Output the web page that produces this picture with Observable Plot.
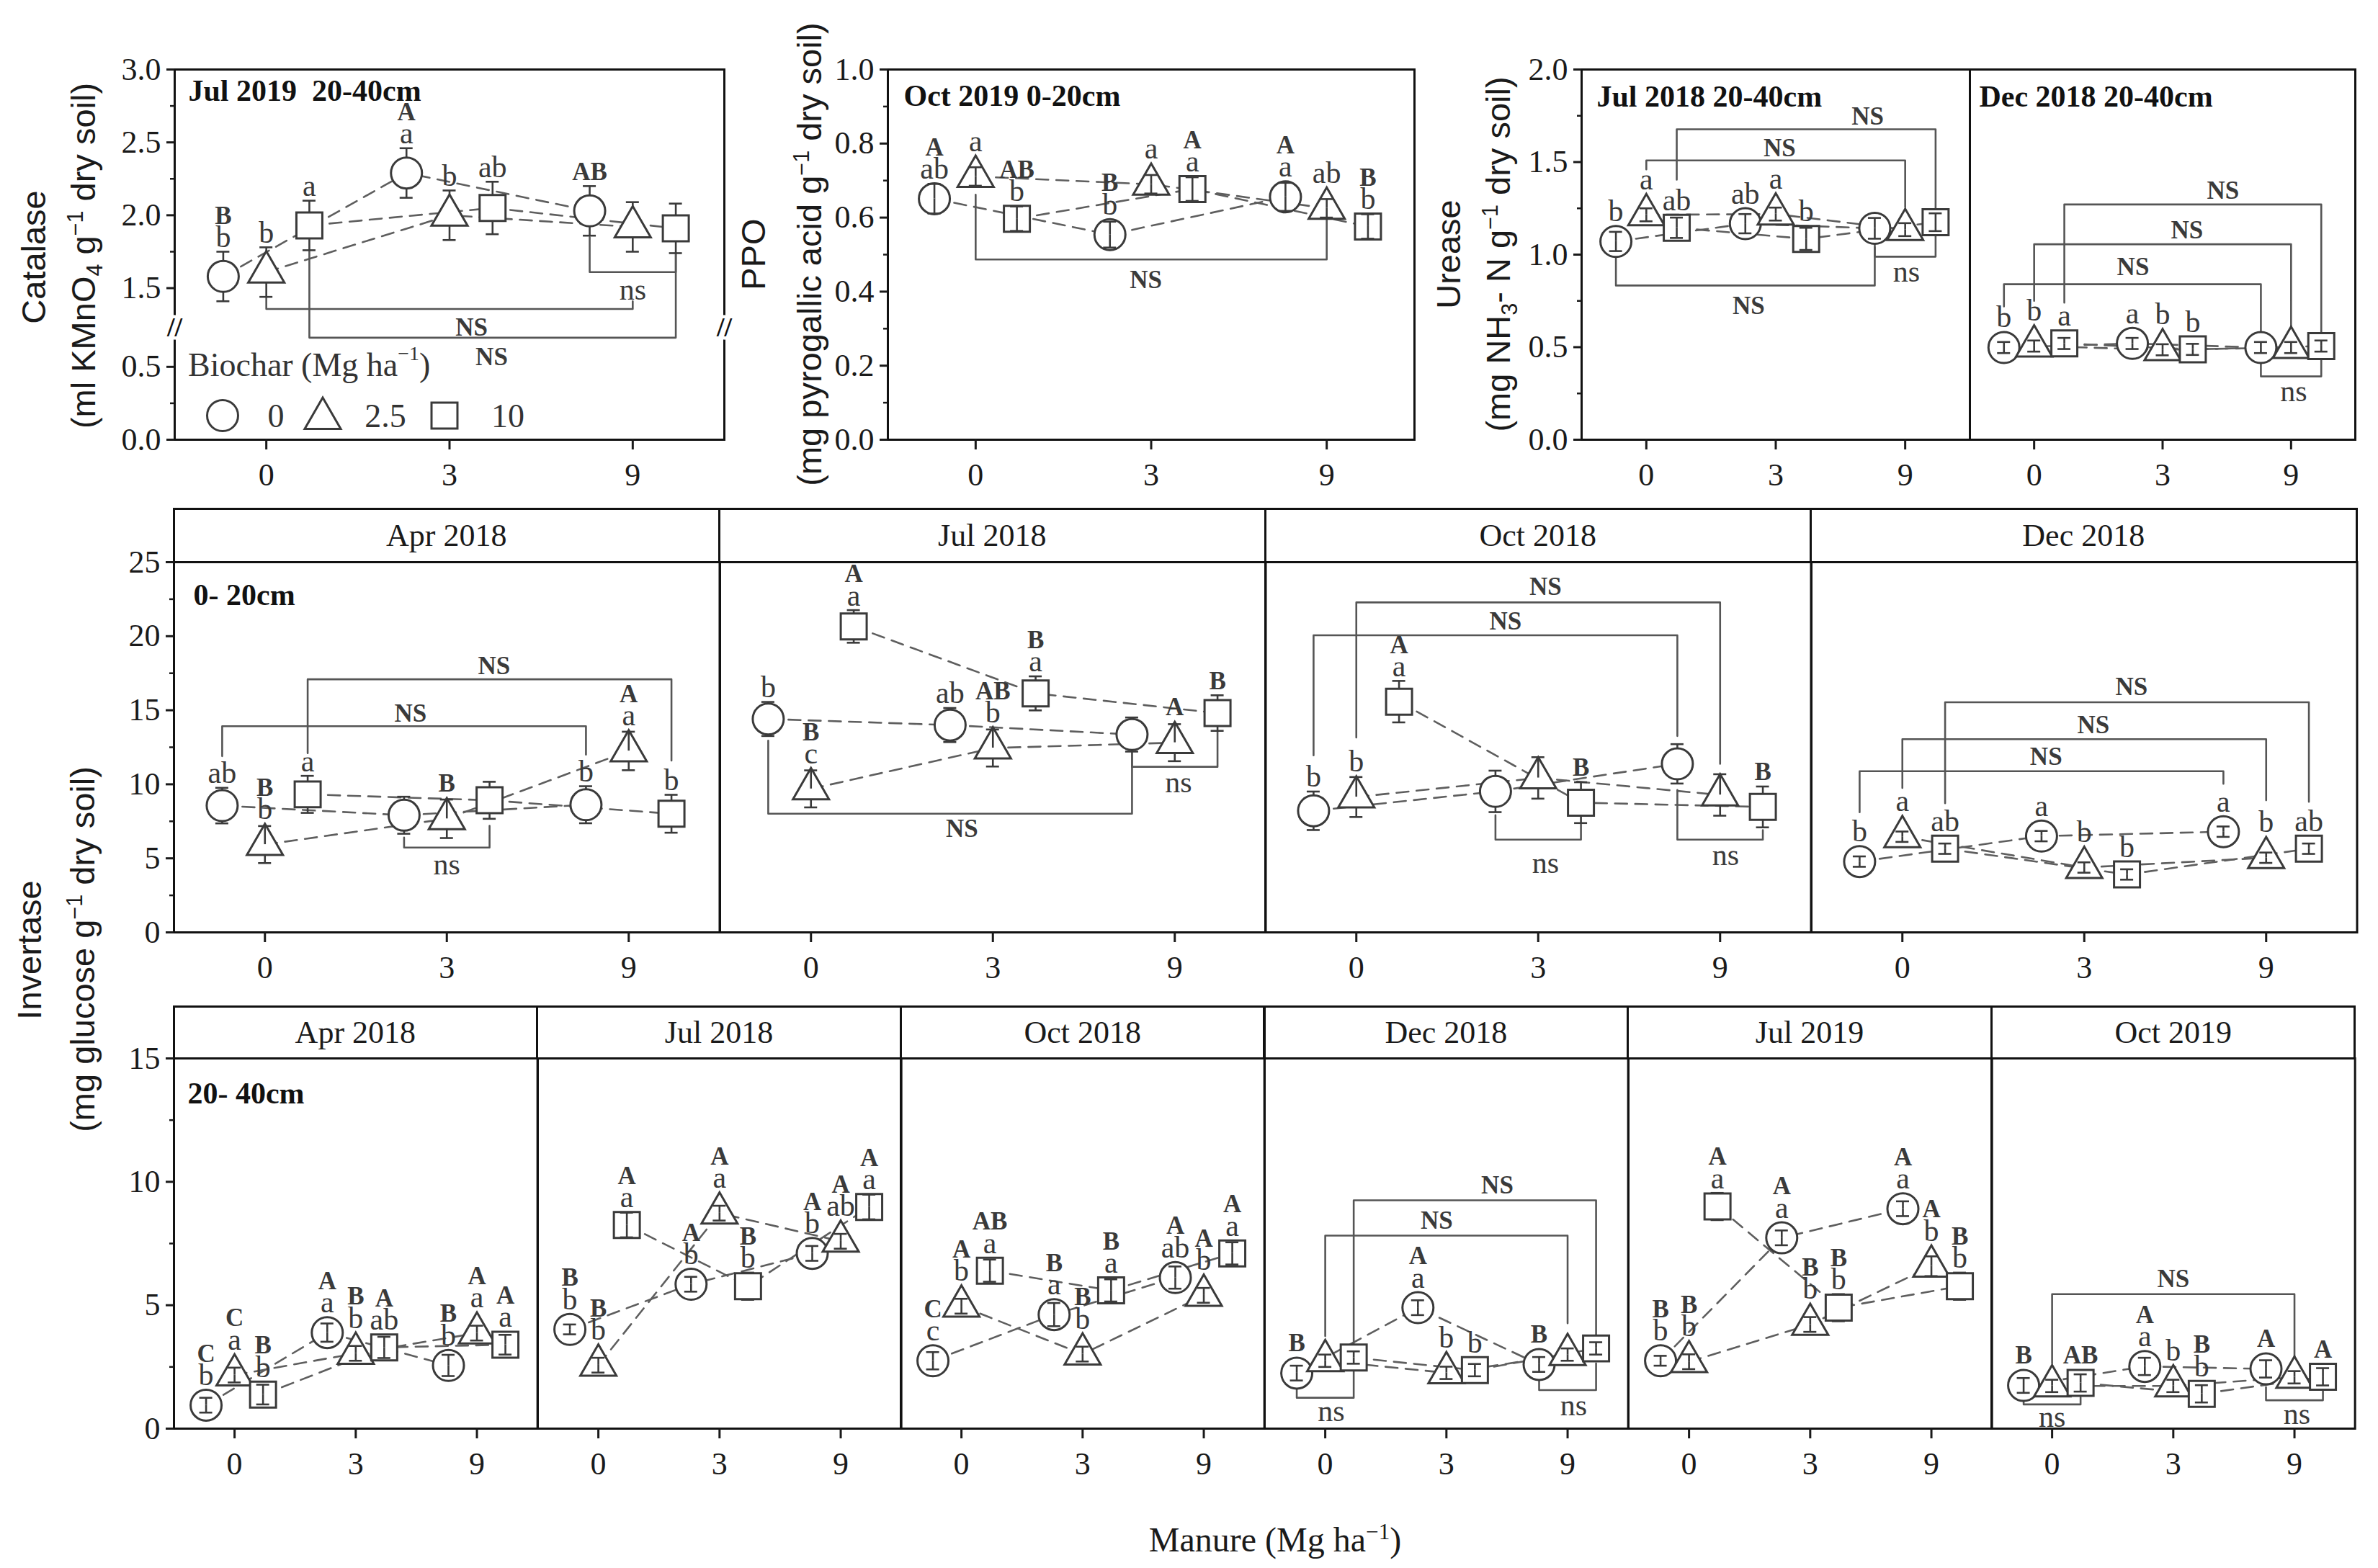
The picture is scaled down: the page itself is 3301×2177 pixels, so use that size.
<!DOCTYPE html>
<html><head><meta charset="utf-8">
<script src="https://cdn.jsdelivr.net/npm/d3@7"></script>
<script src="https://cdn.jsdelivr.net/npm/@observablehq/plot@0.6"></script>
<style>
body{margin:0;background:#fff;}
#fig{position:relative;width:3301px;height:2177px;background:#fff;overflow:hidden;font-family:"Liberation Serif","Times New Roman",serif;}
.ytitle{position:absolute;font-family:"Liberation Sans",Arial,sans-serif;font-size:47px;color:#1a1a1a;white-space:nowrap;transform:translate(-50%,-50%) rotate(-90deg);line-height:1;}
.hdr{position:absolute;box-sizing:border-box;border:3px solid #111;display:flex;align-items:center;justify-content:center;font-size:44px;color:#1a1a1a;}
.xtitle{position:absolute;font-size:48px;color:#1a1a1a;white-space:nowrap;transform:translate(-50%,-50%);}
sup,sub{font-size:65%;}
</style></head><body><div id="fig"></div><script>
// ---------------- DATA ----------------
// rows = biochar 0, 2.5, 10 Mg/ha ; columns = manure 0, 3, 9 Mg/ha
const manureTicks = ["0", "3", "9"];
const biocharLevels = ["0", "2.5", "10"];
const midHeaders = ["Apr 2018", "Jul 2018", "Oct 2018", "Dec 2018"];
const botHeaders = ["Apr 2018", "Jul 2018", "Oct 2018", "Dec 2018", "Jul 2019", "Oct 2019"];

// Catalase, Jul 2019, 20-40 cm
const catMean = [[1.58, 2.29, 2.03], [1.61, 2.00, 1.92], [1.93, 2.05, 1.91]];
const catSd = [[0.17, 0.17, 0.17], [0.17, 0.17, 0.17], [0.17, 0.18, 0.17]];
const catLow = [["b", "a", ""], ["b", "b", ""], ["a", "ab", ""]];
const catUp = [["B", "A", "AB"], ["", "", ""], ["", "", ""]];
const catBr = [
  {from: [0, 2, 1.85], to: [2, 2, 1.74], level: 1.61, text: "ns", at: [2.0, 1.49]},
  {from: [1, 0, 1.44], to: [1, 2, 1.41], level: 1.357, text: "NS", at: [1.12, 0.77]},
  {from: [2, 0, 1.76], to: [2, 2, 1.74], level: 0.70, text: "NS", at: [1.23, 0.566]}
];
const catTicks = [0, 0.5, 1.5, 2.0, 2.5, 3.0];
const catMinor = [0.25, 1.75, 2.25, 2.75];

// PPO, Oct 2019, 0-20 cm
const ppoMean = [[0.651, 0.554, 0.656], [0.711, 0.690, 0.625], [0.597, 0.677, 0.576]];
const ppoSd = [[0.040, 0.035, 0.038], [0.025, 0.025, 0.025], [0.033, 0.032, 0.033]];
const ppoLow = [["ab", "b", "a"], ["a", "a", "ab"], ["b", "a", "b"]];
const ppoUp = [["A", "B", "A"], ["", "", ""], ["AB", "A", "B"]];
const ppoBr = [{from: [1, 0, 0.662], to: [1, 2, 0.595], level: 0.487, text: "NS", at: [0.97, 0.431]}];
const ppoTicks = [0, 0.2, 0.4, 0.6, 0.8, 1.0];
const ppoMinor = [0.1, 0.3, 0.5, 0.7, 0.9];

// Urease, Jul 2018 & Dec 2018, 20-40 cm
const urJulMean = [[1.071, 1.167, 1.142], [1.215, 1.219, 1.135], [1.145, 1.085, 1.175]];
const urJulSd = [[0.052, 0.052, 0.056], [0.035, 0.035, 0.035], [0.055, 0.060, 0.048]];
const urJulLow = [["b", "ab", ""], ["a", "a", ""], ["ab", "b", ""]];
const urJulUp = [["", "", ""], ["", "", ""], ["", "", ""]];
const urJulBr = [
  {from: [2, 0, 1.405], to: [2, 2, 1.249], level: 1.677, text: "NS", at: [1.71, 1.747]},
  {from: [1, 0, 1.46], to: [1, 2, 1.257], level: 1.509, text: "NS", at: [1.03, 1.576]},
  {from: [0, 0, 0.996], to: [0, 2, 1.07], level: 0.833, text: "NS", at: [0.79, 0.721]},
  {from: [0, 2, 1.04], to: [2, 2, 1.10], level: 0.989, text: "ns", at: [2.01, 0.907]}
];
const urDecMean = [[0.498, 0.520, 0.498], [0.506, 0.486, 0.498], [0.520, 0.488, 0.506]];
const urDecSd = [[0.03, 0.03, 0.03], [0.03, 0.03, 0.03], [0.03, 0.03, 0.03]];
const urDecLow = [["b", "a", ""], ["b", "b", ""], ["a", "b", ""]];
const urDecUp = [["", "", ""], ["", "", ""], ["", "", ""]];
const urDecBr = [
  {from: [2, 0, 0.74], to: [2, 2, 0.58], level: 1.271, text: "NS", at: [1.47, 1.346]},
  {from: [1, 0, 0.75], to: [1, 2, 0.61], level: 1.056, text: "NS", at: [1.19, 1.13]},
  {from: [0, 0, 0.72], to: [0, 2, 0.587], level: 0.840, text: "NS", at: [0.77, 0.934]},
  {from: [0, 2, 0.424], to: [2, 2, 0.439], level: 0.342, text: "ns", at: [2.02, 0.26]}
];
const urTicks = [0, 0.5, 1.0, 1.5, 2.0];
const urMinor = [0.25, 0.75, 1.25, 1.75];

// Invertase, 0-20 cm
const inv0Apr18Mean = [[8.56, 7.91, 8.62], [5.93, 7.67, 12.25], [9.32, 8.92, 8.01]];
const inv0Apr18Sd = [[1.2, 1.25, 1.25], [1.25, 1.3, 1.3], [1.25, 1.25, 1.28]];
const inv0Apr18Low = [["ab", "", "b"], ["b", "", "a"], ["a", "", "b"]];
const inv0Apr18Up = [["", "", ""], ["B", "B", "A"], ["", "", ""]];
const inv0Apr18Br = [
  {from: [2, 0, 12.1], to: [2, 2, 11.6], level: 17.09, text: "NS", at: [1.26, 18.0]},
  {from: [0, 0, 11.9], to: [0, 2, 12.0], level: 13.92, text: "NS", at: [0.80, 14.77]},
  {from: [0, 1, 6.4], to: [2, 1, 7.2], level: 5.73, text: "ns", at: [1.0, 4.58]}
];
const inv0Jul18Mean = [[14.41, 14.0, 13.36], [9.69, 12.45, 12.81], [20.66, 16.14, 14.81]];
const inv0Jul18Sd = [[1.15, 1.15, 1.15], [1.25, 1.25, 1.25], [1.1, 1.15, 1.2]];
const inv0Jul18Low = [["b", "ab", ""], ["c", "b", ""], ["a", "a", ""]];
const inv0Jul18Up = [["", "", ""], ["B", "AB", "A"], ["A", "B", "B"]];
const inv0Jul18Br = [
  {from: [0, 0, 12.95], to: [0, 2, 12.15], level: 8.01, text: "NS", at: [0.83, 7.0]},
  {from: [0, 2, 12.15], to: [2, 2, 13.56], level: 11.18, text: "ns", at: [2.02, 10.13]}
];
const inv0Oct18Mean = [[8.21, 9.52, 11.38], [9.14, 10.43, 9.28], [15.58, 8.76, 8.47]];
const inv0Oct18Sd = [[1.3, 1.4, 1.33], [1.35, 1.4, 1.4], [1.4, 1.38, 1.38]];
const inv0Oct18Low = [["b", "", ""], ["b", "", ""], ["a", "", ""]];
const inv0Oct18Up = [["", "", ""], ["", "", ""], ["A", "B", "B"]];
const inv0Oct18Br = [
  {from: [1, 0, 13.16], to: [1, 2, 11.38], level: 22.28, text: "NS", at: [1.04, 23.35]},
  {from: [0, 0, 11.95], to: [0, 2, 13.26], level: 20.06, text: "NS", at: [0.82, 21.02]},
  {from: [0, 1, 7.91], to: [2, 1, 7.30], level: 6.26, text: "ns", at: [1.04, 4.68]},
  {from: [0, 2, 9.62], to: [2, 2, 6.9], level: 6.26, text: "ns", at: [2.03, 5.19]}
];
const inv0Dec18Mean = [[4.78, 6.50, 6.80], [6.46, 4.38, 5.04], [5.65, 3.91, 5.65]];
const inv0Dec18Sd = [[0.35, 0.35, 0.35], [0.35, 0.35, 0.35], [0.35, 0.35, 0.35]];
const inv0Dec18Low = [["b", "a", "a"], ["a", "b", "b"], ["ab", "b", "ab"]];
const inv0Dec18Up = [["", "", ""], ["", "", ""], ["", "", ""]];
const inv0Dec18Br = [
  {from: [2, 0, 8.72], to: [2, 2, 8.82], level: 15.54, text: "NS", at: [1.26, 16.55]},
  {from: [1, 0, 9.75], to: [1, 2, 8.92], level: 13.05, text: "NS", at: [1.05, 14.0]},
  {from: [0, 0, 8.11], to: [0, 2, 10.03], level: 10.88, text: "NS", at: [0.79, 11.84]}
];

// Invertase, 20-40 cm
const inv2Apr18Mean = [[0.95, 3.89, 2.56], [2.17, 3.05, 3.87], [1.38, 3.29, 3.40]];
const inv2Apr18Sd = [[0.3, 0.37, 0.43], [0.3, 0.3, 0.3], [0.4, 0.43, 0.4]];
const inv2Apr18Low = [["b", "a", "b"], ["a", "b", "a"], ["b", "ab", "a"]];
const inv2Apr18Up = [["C", "A", "B"], ["C", "B", "A"], ["B", "A", "A"]];
const inv2Jul18Mean = [[4.02, 5.85, 7.10], [2.57, 8.73, 7.59], [8.25, 5.77, 8.98]];
const inv2Jul18Sd = [[0.2, 0.3, 0.3], [0.3, 0.3, 0.3], [0.5, 0.55, 0.5]];
const inv2Jul18Low = [["b", "b", "b"], ["b", "a", "ab"], ["a", "b", "a"]];
const inv2Jul18Up = [["B", "A", "A"], ["B", "A", "A"], ["A", "B", "A"]];
const inv2Oct18Mean = [[2.75, 4.62, 6.12], [4.96, 3.02, 5.40], [6.40, 5.60, 7.10]];
const inv2Oct18Sd = [[0.35, 0.47, 0.45], [0.3, 0.3, 0.3], [0.45, 0.45, 0.45]];
const inv2Oct18Low = [["c", "a", "ab"], ["b", "b", "b"], ["a", "a", "a"]];
const inv2Oct18Up = [["C", "B", "A"], ["A", "B", "A"], ["AB", "B", "A"]];
const inv2Dec18Mean = [[2.25, 4.90, 2.60], [2.75, 2.26, 3.00], [2.88, 2.37, 3.25]];
const inv2Dec18Sd = [[0.3, 0.3, 0.3], [0.25, 0.25, 0.25], [0.25, 0.25, 0.25]];
const inv2Dec18Low = [["", "a", ""], ["", "b", ""], ["", "b", ""]];
const inv2Dec18Up = [["B", "A", "B"], ["", "", ""], ["", "", ""]];
const inv2Dec18Br = [
  {from: [2, 0, 3.46], to: [2, 2, 3.81], level: 9.25, text: "NS", at: [1.42, 9.86]},
  {from: [1, 0, 3.75], to: [1, 2, 4.27], level: 7.82, text: "NS", at: [0.92, 8.42]},
  {from: [0, 0, 1.67], to: [2, 0, 2.31], level: 1.25, text: "ns", at: [0.05, 0.69]},
  {from: [0, 2, 1.96], to: [2, 2, 2.65], level: 1.56, text: "ns", at: [2.05, 0.92]}
];
const inv2Jul19Mean = [[2.75, 7.73, 8.91], [2.71, 4.22, 6.58], [9.00, 4.90, 5.77]];
const inv2Jul19Sd = [[0.2, 0.3, 0.3], [0.3, 0.3, 0.4], [0.55, 0.55, 0.55]];
const inv2Jul19Low = [["b", "a", "a"], ["b", "b", "b"], ["a", "b", "b"]];
const inv2Jul19Up = [["B", "A", "A"], ["B", "B", "A"], ["A", "B", "B"]];
const inv2Oct19Mean = [[1.75, 2.52, 2.42], [1.73, 1.73, 2.08], [1.85, 1.41, 2.10]];
const inv2Oct19Sd = [[0.3, 0.35, 0.35], [0.25, 0.25, 0.25], [0.35, 0.35, 0.35]];
const inv2Oct19Low = [["", "a", ""], ["", "b", ""], ["", "b", ""]];
const inv2Oct19Up = [["B", "A", "A"], ["", "", ""], ["AB", "B", "A"]];
const inv2Oct19Br = [
  {from: [1, 0, 2.65], to: [1, 2, 2.94], level: 5.45, text: "NS", at: [1.0, 6.06]},
  {from: [0, 0, 1.21], to: [2, 0, 1.27], level: 0.98, text: "ns", at: [0.0, 0.46]},
  {from: [0, 2, 1.68], to: [2, 2, 1.56], level: 1.15, text: "ns", at: [2.02, 0.58]}
];
const midTicks = [0, 5, 10, 15, 20, 25];
const midMinor = [2.5, 7.5, 12.5, 17.5, 22.5];
const botTicks = [0, 5, 10, 15];
const botMinor = [2.5, 7.5, 12.5];

// ---------------- DRAWING ----------------
const fig = document.getElementById("fig");
const OFF = 0.235;
const SYM = ["circle", "triangle", "square"];
const RAD = [21.5, 18.6, 20.3];
const EXT = [{up: 21.5, dn: 21.5}, {up: 28.9, dn: 14.5}, {up: 18, dn: 18}];
const INK = "#3a3a3a";
const f1 = d3.format(".1f");

function place(el, left, top) {
  el.style.position = "absolute";
  el.style.left = left + "px";
  el.style.top = top + "px";
  fig.appendChild(el);
}

function drawPanel(c) {
  const W = c.R - c.L, H = c.B - c.T;
  const tf = c.tf || (v => v);
  const ppu = H / (c.ydom[1] - c.ydom[0]);
  const ppx = W / 3;
  const rows = [];
  for (let b = 0; b < 3; b++) for (let m = 0; m < 3; m++) {
    const v = c.mean[b][m], s = c.sd[b][m], e = EXT[b];
    const y = tf(v), yt = tf(v + s), yb = tf(v - s);
    rows.push({
      b, m, pos: m + (b - 1) * OFF, y, yt, yb,
      a1: (yt - y) * ppu > e.up ? y + e.up / ppu : y,
      a2: (y - yb) * ppu > e.dn ? y - e.dn / ppu : y,
      top: Math.max(yt, y + e.up / ppu),
      lo: c.low[b][m], up: c.up[b][m]
    });
  }
  const br = c.br || [];
  const bpts = [];
  br.forEach((k, i) => {
    const x1 = k.from[1] + (k.from[0] - 1) * OFF, x2 = k.to[1] + (k.to[0] - 1) * OFF;
    bpts.push({id: i, x: x1, y: tf(k.from[2])}, {id: i, x: x1, y: tf(k.level)},
              {id: i, x: x2, y: tf(k.level)}, {id: i, x: x2, y: tf(k.to[2])});
  });
  const capW = 9 / ppx;
  const marks = [
    Plot.line(rows, {x: "pos", y: "y", z: "b", stroke: "#5e5e5e", strokeWidth: 2.6, strokeDasharray: "17,11"}),
    Plot.line(bpts, {x: "x", y: "y", z: "id", stroke: "#555", strokeWidth: 2.6}),
    ...[0, 1, 2].map(b => Plot.dot(rows.filter(d => d.b === b), {x: "pos", y: "y", symbol: SYM[b], r: RAD[b], fill: "white", stroke: INK, strokeWidth: 3})),
    Plot.ruleX(rows, {x: "pos", y1: "a1", y2: "yt", stroke: INK, strokeWidth: 2.6}),
    Plot.ruleX(rows, {x: "pos", y1: "yb", y2: "a2", stroke: INK, strokeWidth: 2.6}),
    Plot.ruleY(rows, {y: "yt", x1: d => d.pos - capW, x2: d => d.pos + capW, stroke: INK, strokeWidth: 2.6}),
    Plot.ruleY(rows, {y: "yb", x1: d => d.pos - capW, x2: d => d.pos + capW, stroke: INK, strokeWidth: 2.6}),
    Plot.text(rows.filter(d => d.lo), {x: "pos", y: "top", text: "lo", dy: -20, fontSize: 42, fill: INK, lineAnchor: "middle"}),
    Plot.text(rows.filter(d => d.up && d.lo), {x: "pos", y: "top", text: "up", dy: -50, fontSize: 35, fontWeight: "bold", fill: INK, lineAnchor: "middle"}),
    Plot.text(rows.filter(d => d.up && !d.lo), {x: "pos", y: "top", text: "up", dy: -20, fontSize: 35, fontWeight: "bold", fill: INK, lineAnchor: "middle"}),
    Plot.text(br.filter(d => d.text === "NS"), {x: d => d.at[0], y: d => tf(d.at[1]), text: "text", fontSize: 35, fontWeight: "bold", fill: INK, lineAnchor: "middle"}),
    Plot.text(br.filter(d => d.text === "ns"), {x: d => d.at[0], y: d => tf(d.at[1]), text: "text", fontSize: 42, fill: INK, lineAnchor: "middle"}),
    Plot.frame({stroke: "#111", strokeWidth: 3}),
    Plot.axisX({ticks: [0, 1, 2], tickFormat: i => manureTicks[i], tickSize: 14, tickPadding: 18, strokeWidth: 3, label: null})
  ];
  if (c.title) marks.push(Plot.text([c.title], {frameAnchor: "top-left", dx: c.tdx, dy: c.tdy, text: d => d, fontSize: 42, fontWeight: "bold", fill: "#111", lineAnchor: "middle"}));
  if (c.yticks) {
    marks.push(Plot.axisY({ticks: c.yticks.map(tf), tickFormat: c.yfmt, tickSize: 11, tickPadding: 8, strokeWidth: 3, label: null}));
    marks.push(Plot.axisY({ticks: c.yminor.map(tf), tickFormat: () => "", tickSize: 6, strokeWidth: 2.5, label: null}));
  }
  if (c.extra) marks.push(...c.extra);
  const ml = c.yticks ? 130 : 3, mr = 3, mt = 3, mb = 100;
  const svg = Plot.plot({
    width: W + ml + mr, height: H + mt + mb,
    marginLeft: ml, marginRight: mr, marginTop: mt, marginBottom: mb,
    x: {domain: [-0.5, 2.5]},
    y: c.yticks ? {domain: c.ydom} : {domain: c.ydom, axis: null},
    style: {fontFamily: '"Liberation Serif","Times New Roman",serif', fontSize: "44px", color: "#1a1a1a", background: "transparent", overflow: "visible", maxWidth: "none"},
    marks
  });
  place(svg, c.L - ml, c.T - mt);
}

function header(text, L, R, top, bottom) {
  const d = document.createElement("div");
  d.className = "hdr";
  d.textContent = text;
  d.style.left = (L - 1.5) + "px";
  d.style.top = (top - 1.5) + "px";
  d.style.width = (R - L + 3) + "px";
  d.style.height = (bottom - top + 3) + "px";
  fig.appendChild(d);
}
function ytitle(html, cx, cy) {
  const d = document.createElement("div");
  d.className = "ytitle";
  d.innerHTML = html;
  d.style.left = cx + "px";
  d.style.top = cy + "px";
  fig.appendChild(d);
}

// --- top row ---
const catTf = v => v >= 1.0 ? v - 0.46 : v;
const catUn = t => t > 0.77 ? t + 0.46 : t;
drawPanel({L: 242, R: 1005, T: 96, B: 610, ydom: [0, 2.54], tf: catTf,
  mean: catMean, sd: catSd, low: catLow, up: catUp, br: catBr,
  yticks: catTicks, yminor: catMinor, yfmt: t => f1(catUn(t)),
  title: "Jul 2019  20-40cm", tdx: 19, tdy: 30,
  extra: ["left", "right"].map(a => Plot.text([0.77], {y: d => d, frameAnchor: a, text: () => "//", textAnchor: "middle", lineAnchor: "middle", fontSize: 38, fontWeight: "bold", fill: "#111", stroke: "white", strokeWidth: 9, paintOrder: "stroke"}))
});
drawPanel({L: 1232, R: 1963, T: 96, B: 610, ydom: [0, 1],
  mean: ppoMean, sd: ppoSd, low: ppoLow, up: ppoUp, br: ppoBr,
  yticks: ppoTicks, yminor: ppoMinor, yfmt: f1,
  title: "Oct 2019 0-20cm", tdx: 22, tdy: 37});
drawPanel({L: 2195, R: 2734, T: 96, B: 610, ydom: [0, 2],
  mean: urJulMean, sd: urJulSd, low: urJulLow, up: urJulUp, br: urJulBr,
  yticks: urTicks, yminor: urMinor, yfmt: f1,
  title: "Jul 2018 20-40cm", tdx: 21, tdy: 38});
drawPanel({L: 2734, R: 3269, T: 96, B: 610, ydom: [0, 2],
  mean: urDecMean, sd: urDecSd, low: urDecLow, up: urDecUp, br: urDecBr,
  title: "Dec 2018 20-40cm", tdx: 13, tdy: 38});

// --- middle row (0-20 cm) ---
const midData = [
  [inv0Apr18Mean, inv0Apr18Sd, inv0Apr18Low, inv0Apr18Up, inv0Apr18Br],
  [inv0Jul18Mean, inv0Jul18Sd, inv0Jul18Low, inv0Jul18Up, inv0Jul18Br],
  [inv0Oct18Mean, inv0Oct18Sd, inv0Oct18Low, inv0Oct18Up, inv0Oct18Br],
  [inv0Dec18Mean, inv0Dec18Sd, inv0Dec18Low, inv0Dec18Up, inv0Dec18Br]
];
const midL = 241, midR = 3271, midW = (midR - midL) / 4;
midData.forEach((p, i) => {
  const L = midL + i * midW, R = L + midW;
  header(midHeaders[i], L, R, 706, 780);
  drawPanel({L, R, T: 780, B: 1294, ydom: [0, 25],
    mean: p[0], sd: p[1], low: p[2], up: p[3], br: p[4],
    yticks: i === 0 ? midTicks : null, yminor: midMinor, yfmt: d => String(d),
    title: i === 0 ? "0- 20cm" : null, tdx: 27, tdy: 46});
});

// --- bottom row (20-40 cm) ---
const botData = [
  [inv2Apr18Mean, inv2Apr18Sd, inv2Apr18Low, inv2Apr18Up, []],
  [inv2Jul18Mean, inv2Jul18Sd, inv2Jul18Low, inv2Jul18Up, []],
  [inv2Oct18Mean, inv2Oct18Sd, inv2Oct18Low, inv2Oct18Up, []],
  [inv2Dec18Mean, inv2Dec18Sd, inv2Dec18Low, inv2Dec18Up, inv2Dec18Br],
  [inv2Jul19Mean, inv2Jul19Sd, inv2Jul19Low, inv2Jul19Up, []],
  [inv2Oct19Mean, inv2Oct19Sd, inv2Oct19Low, inv2Oct19Up, inv2Oct19Br]
];
const botL = 241, botR = 3269, botW = (botR - botL) / 6;
botData.forEach((p, i) => {
  const L = botL + i * botW, R = L + botW;
  header(botHeaders[i], L, R, 1397, 1469);
  drawPanel({L, R, T: 1469, B: 1983, ydom: [0, 15],
    mean: p[0], sd: p[1], low: p[2], up: p[3], br: p[4],
    yticks: i === 0 ? botTicks : null, yminor: botMinor, yfmt: d => String(d),
    title: i === 0 ? "20- 40cm" : null, tdx: 19, tdy: 49});
});

// --- axis titles ---
ytitle("Catalase", 46, 357);
ytitle("(ml KMnO<sub>4</sub> g<sup>−1</sup> dry soil)", 118, 355);
ytitle("PPO", 1045, 353);
ytitle("(mg pyrogallic acid g<sup>−1</sup> dry soil)", 1122, 353);
ytitle("Urease", 2010, 353);
ytitle("(mg NH<sub>3</sub>- N g<sup>−1</sup> dry soil)", 2082, 353);
ytitle("Invertase", 40, 1319);
ytitle("(mg glucose g<sup>−1</sup> dry soil)", 113, 1318);
const xt = document.createElement("div");
xt.className = "xtitle";
xt.innerHTML = "Manure (Mg ha<sup>−1</sup>)";
xt.style.left = "1770px"; xt.style.top = "2137px";
fig.appendChild(xt);

// --- biochar legend (inside catalase panel) ---
const lg = d3.create("svg").attr("width", 560).attr("height", 150).style("overflow", "visible");
const lt = lg.append("text").attr("x", 11).attr("y", 41).attr("dominant-baseline", "central")
  .attr("font-family", '"Liberation Serif",serif').attr("font-size", 46).attr("fill", "#333");
lt.append("tspan").text("Biochar (Mg ha");
lt.append("tspan").attr("dy", -16).attr("font-size", 28).text("−1");
lt.append("tspan").attr("dy", 16).text(")");
const lgSym = [d3.symbolCircle, d3.symbolTriangle, d3.symbolSquare];
const lgX = [59, 198, 367], lgTx = [133, 285, 455];
biocharLevels.forEach((lab, i) => {
  lg.append("path").attr("d", d3.symbol(lgSym[i], Math.PI * RAD[i] * RAD[i])())
    .attr("transform", `translate(${lgX[i]},${i === 1 ? 116 : 112})`)
    .attr("fill", "white").attr("stroke", INK).attr("stroke-width", 3);
  lg.append("text").attr("x", lgTx[i]).attr("y", 112).attr("text-anchor", "middle").attr("dominant-baseline", "central")
    .attr("font-family", '"Liberation Serif",serif').attr("font-size", 46).attr("fill", "#333").text(lab);
});
place(lg.node(), 250, 465);
</script></body></html>
